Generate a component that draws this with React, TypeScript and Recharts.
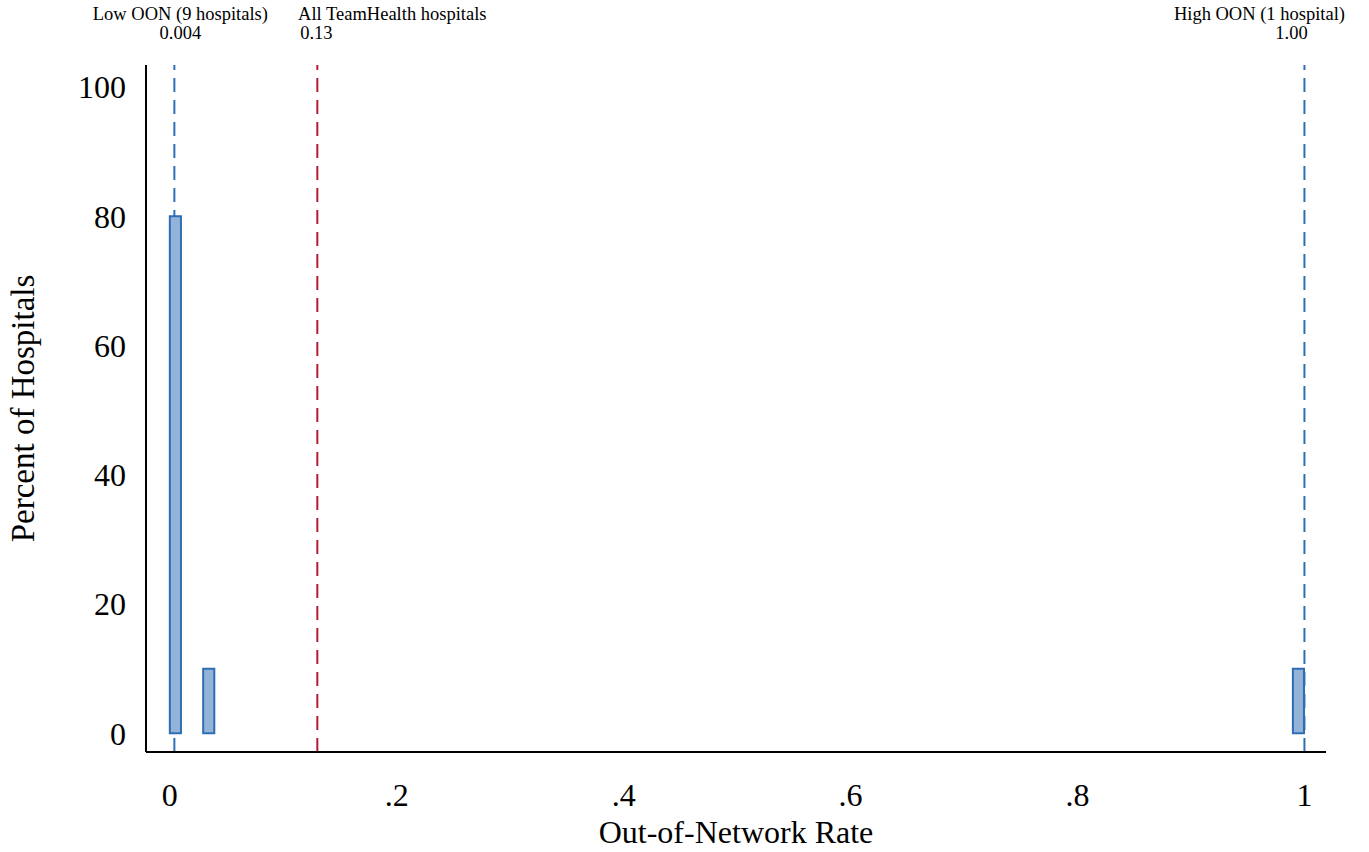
import { ComposedChart, XAxis, YAxis, ReferenceLine, ReferenceArea, Label } from "recharts";

// histogram bins (out-of-network rate) and percent of hospitals in each
const binStart = [0, 0.0294, 0.9898];
const binEnd = [0.0098, 0.0392, 0.9996];
const percent = [80, 10, 10];

const xTicks = [0, 0.2, 0.4, 0.6, 0.8, 1];
const yTicks = [0, 20, 40, 60, 80, 100];

// reference lines with their labels
const markerValues = [0.004, 0.13, 1.0];
const markerTitles = ["Low OON (9 hospitals)", "All TeamHealth hospitals", "High OON (1 hospital)"];
const markerLabels = ["0.004", "0.13", "1.00"];

const FONT = '"Liberation Serif", "Times New Roman", serif';
const BLUE = "#2f6fb6";
const RED = "#b51a33";
const MARKER_COLORS = [BLUE, RED, BLUE];
// horizontal shift of the two label rows, relative to each line
const TITLE_DX = [6, 75, -45];
const VALUE_DX = [6, -1, -13];

const fmtX = (v: number) => (v === 0 ? "0" : v === 1 ? "1" : String(v).replace(/^0/, ""));

function MarkerLabel(props: any) {
  const { viewBox, idx } = props;
  const x = viewBox.x;
  return (
    <g>
      <text x={x + TITLE_DX[idx]} y={20} textAnchor="middle" fontSize={18.5} fontFamily={FONT} fill="#000">
        {markerTitles[idx]}
      </text>
      <text x={x + VALUE_DX[idx]} y={39} textAnchor="middle" fontSize={18.5} fontFamily={FONT} fill="#000">
        {markerLabels[idx]}
      </text>
    </g>
  );
}

export default function App() {
  const bins = percent.map((p, i) => ({ x0: binStart[i], x1: binEnd[i], pct: p }));

  return (
    <div style={{ position: "absolute", left: 0, top: 0, background: "#fff" }}>
      <ComposedChart
        width={1369}
        height={852}
        data={bins}
        margin={{ top: 65, right: 43, bottom: 0, left: 0 }}
        style={{ fontFamily: FONT }}
      >
        <XAxis
          type="number"
          dataKey="x0"
          domain={[-0.021, 1.019]}
          allowDataOverflow
          ticks={xTicks}
          interval={0}
          tickFormatter={fmtX}
          axisLine={{ stroke: "#000", strokeWidth: 2 }}
          tickLine={false}
          tickSize={0}
          tickMargin={31}
          height={100}
          tick={{ fontSize: 32, fill: "#000", fontFamily: FONT }}
        >
          <Label
            content={({ viewBox }: any) => (
              <text
                x={viewBox.x + viewBox.width / 2}
                y={viewBox.y + viewBox.height - 9}
                textAnchor="middle"
                fontSize={32}
                fontFamily={FONT}
                fill="#000"
              >
                Out-of-Network Rate
              </text>
            )}
          />
        </XAxis>
        <YAxis
          type="number"
          domain={[-2.9, 103.4]}
          allowDataOverflow
          ticks={yTicks}
          interval={0}
          width={146}
          axisLine={{ stroke: "#000", strokeWidth: 2 }}
          tickLine={false}
          tickSize={0}
          tickMargin={20}
          tick={{ fontSize: 32, fill: "#000", fontFamily: FONT }}
        >
          <Label
            content={({ viewBox }: any) => {
              const cx = 34;
              const cy = viewBox.y + viewBox.height / 2;
              return (
                <text
                  x={cx}
                  y={cy}
                  transform={`rotate(-90, ${cx}, ${cy})`}
                  textAnchor="middle"
                  fontSize={33}
                  fontFamily={FONT}
                  fill="#000"
                >
                  Percent of Hospitals
                </text>
              );
            }}
          />
        </YAxis>

        {markerValues.map((v, i) => (
          <ReferenceLine
            key={`m${i}`}
            x={v}
            stroke={MARKER_COLORS[i]}
            strokeWidth={2}
            strokeDasharray="14 8"
            ifOverflow="visible"
            zIndex={100}
            label={(p: any) => <MarkerLabel {...p} idx={i} />}
          />
        ))}

        {bins.map((b, i) => (
          <ReferenceArea
            key={`b${i}`}
            x1={b.x0}
            x2={b.x1}
            y1={0}
            y2={b.pct}
            fill="#93b4d8"
            fillOpacity={1}
            stroke="#2f6db4"
            strokeWidth={2}
            strokeOpacity={1}
            ifOverflow="visible"
            zIndex={500}
          />
        ))}
      </ComposedChart>
    </div>
  );
}
